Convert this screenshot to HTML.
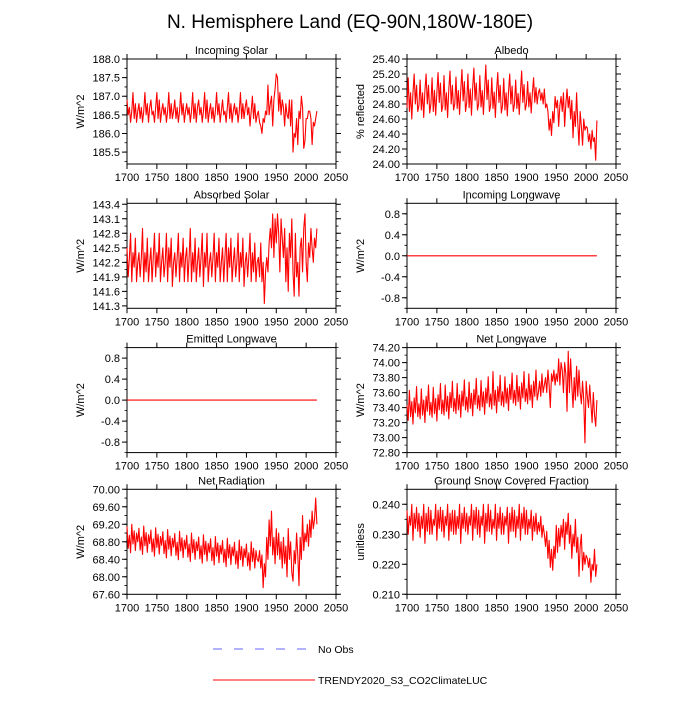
<!DOCTYPE html>
<html><head><meta charset="utf-8"><style>
html,body{margin:0;padding:0;background:#fff;}
svg text{font-family:"Liberation Sans",sans-serif;fill:#000;}
</style></head><body>
<svg id="chart" width="700" height="700" viewBox="0 0 700 700" xmlns="http://www.w3.org/2000/svg">
<text x="350" y="28" font-size="19" text-anchor="middle">N. Hemisphere Land (EQ-90N,180W-180E)</text>
<g id="panels"></g>
<g>
<line x1="213" y1="649" x2="308" y2="649" stroke="#6666ff" stroke-width="1" stroke-dasharray="9,12"/>
<text x="318" y="653" font-size="10.5">No Obs</text>
<line x1="213" y1="680" x2="315" y2="680" stroke="#ff0000" stroke-width="1"/>
<text x="318" y="684" font-size="10.5">TRENDY2020_S3_CO2ClimateLUC</text>
</g>
</svg>
<script>
const startYear = 1700;
const yearStep = 2;
const xTickLabels = [1700,1750,1800,1850,1900,1950,2000,2050];

const incomingSolar = [
186.9,186.5,186.7,186.3,186.6,187.1,186.4,186.8,186.3,186.6,
186.8,186.4,186.7,186.3,186.6,187.1,186.5,186.8,186.3,186.7,
186.9,186.5,186.6,186.3,186.7,187.1,186.4,186.9,186.3,186.6,
186.8,186.5,186.7,186.3,186.6,187.1,186.4,186.8,186.4,186.6,
186.9,186.4,186.7,186.3,186.6,187.1,186.5,186.8,186.3,186.6,
186.8,186.5,186.7,186.3,186.6,187.1,186.4,186.8,186.3,186.7,
186.9,186.5,186.7,186.3,186.6,187.1,186.4,186.9,186.3,186.6,
186.8,186.4,186.7,186.3,186.6,187.1,186.5,186.8,186.3,186.6,
186.9,186.5,186.6,186.3,186.7,187.1,186.4,186.8,186.3,186.6,
186.8,186.5,186.7,186.3,186.6,187.1,186.4,186.8,186.4,186.7,
186.9,186.5,186.7,186.2,186.6,187.0,186.4,186.8,186.3,186.5,
186.6,186.3,186.2,186.0,186.4,186.3,186.6,186.5,187.3,186.5,
186.8,187.0,186.2,186.9,187.2,187.6,187.5,186.6,187.1,186.5,
186.9,186.7,186.2,186.8,186.5,186.4,186.9,186.2,186.9,185.5,
186.0,185.9,186.4,185.7,186.6,186.4,187.0,186.7,185.6,185.8,
186.4,186.4,186.6,186.6,186.4,185.7,186.3,186.2,186.4,186.6];
const albedo = [
24.75,25.15,24.70,24.95,24.60,24.95,25.20,24.80,25.05,24.70,
24.78,25.12,24.72,24.95,24.62,24.98,25.20,24.80,25.05,24.68,
24.80,25.15,24.70,24.98,24.65,24.95,25.22,24.82,25.08,24.70,
24.78,25.18,24.72,24.95,24.62,25.00,25.24,24.80,25.05,24.72,
24.80,25.16,24.74,24.98,24.66,24.98,25.26,24.84,25.10,24.70,
24.82,25.20,24.75,25.00,24.65,25.02,25.28,24.85,25.08,24.72,
24.80,25.18,24.76,24.98,24.66,25.00,25.32,24.86,25.12,24.70,
24.78,25.15,24.74,24.96,24.62,24.98,25.22,24.82,25.05,24.68,
24.78,25.14,24.72,24.95,24.64,24.96,25.20,24.80,25.04,24.70,
24.80,25.12,24.74,24.94,24.66,24.96,25.24,24.82,25.06,24.72,
24.80,25.10,24.76,24.95,24.68,24.95,25.15,24.82,25.02,24.80,
24.95,25.00,24.85,24.95,24.80,25.00,24.75,24.80,24.70,24.45,
24.60,24.38,24.70,24.55,24.90,24.75,24.85,24.50,24.78,24.90,
24.70,24.95,24.50,24.80,25.00,24.75,24.90,24.60,24.85,24.35,
24.70,24.50,24.95,24.55,24.25,24.70,24.50,24.25,24.60,24.45,
24.50,24.48,24.30,24.40,24.20,24.45,24.30,24.35,24.05,24.58];
const absorbedSolar = [
142.5,141.9,142.3,142.8,141.8,142.4,142.1,142.7,141.8,142.2,
142.4,141.9,142.3,142.9,141.8,142.4,142.0,142.7,141.8,142.2,
142.5,141.8,142.3,142.8,141.9,142.4,142.1,142.8,141.8,142.2,
142.5,141.9,142.2,142.8,141.8,142.5,142.1,142.7,141.7,142.2,
142.4,141.9,142.3,142.8,141.8,142.4,142.1,142.7,141.8,142.3,
142.5,141.8,142.3,142.9,141.8,142.4,142.0,142.7,141.8,142.2,
142.5,141.9,142.3,142.8,141.7,142.4,142.1,142.8,141.8,142.2,
142.4,141.9,142.3,142.8,141.8,142.4,142.1,142.7,141.8,142.2,
142.5,141.8,142.3,142.8,141.8,142.5,142.1,142.7,141.8,142.2,
142.5,141.9,142.2,142.8,141.8,142.4,142.1,142.7,141.7,142.2,
142.4,141.9,142.3,142.8,141.8,142.4,142.0,142.6,141.8,142.2,
142.3,141.9,142.6,141.8,142.2,141.35,142.0,142.3,142.0,142.6,
142.9,142.5,143.2,142.3,143.1,142.6,143.2,142.8,142.0,143.1,
142.7,142.3,142.9,141.8,142.5,141.6,142.8,142.3,143.1,142.0,
141.5,142.8,141.9,142.2,141.5,142.5,142.7,142.0,142.9,143.2,
142.2,141.8,142.6,142.3,142.9,142.5,142.2,142.7,142.5,142.9];
const incomingLongwave = [0,0];
const emittedLongwave = [0,0];
const flatYears = [1700,2018];
const netLongwave = [
73.43,73.23,73.63,73.28,73.48,73.18,73.53,73.33,73.68,73.28,
73.45,73.25,73.65,73.30,73.50,73.20,73.55,73.35,73.70,73.30,
73.47,73.27,73.67,73.32,73.52,73.22,73.57,73.37,73.72,73.32,
73.50,73.30,73.70,73.35,73.55,73.25,73.60,73.40,73.75,73.35,
73.52,73.32,73.72,73.37,73.57,73.27,73.62,73.42,73.77,73.37,
73.54,73.34,73.74,73.39,73.59,73.29,73.64,73.44,73.79,73.39,
73.56,73.36,73.76,73.41,73.61,73.31,73.66,73.46,73.81,73.41,
73.58,73.38,73.88,73.43,73.63,73.33,73.68,73.48,73.83,73.43,
73.61,73.41,73.81,73.46,73.66,73.36,73.71,73.51,73.86,73.46,
73.63,73.43,73.83,73.48,73.68,73.38,73.73,73.53,73.88,73.48,
73.65,73.45,73.85,73.50,73.70,73.40,73.75,73.55,73.90,73.50,
73.60,73.75,73.55,73.85,73.60,73.70,73.80,73.60,73.90,73.70,
73.40,73.85,73.75,73.90,73.70,73.85,73.75,74.05,73.70,74.00,
73.90,73.60,74.00,73.85,73.35,74.15,73.60,74.05,73.70,73.40,
73.80,73.50,73.95,73.55,73.90,73.60,73.45,73.75,73.50,72.93,
73.75,73.55,73.40,73.70,73.45,73.20,73.60,73.30,73.15,73.50];
const netRadiation = [
69.15,68.65,68.95,68.55,69.20,68.75,69.05,68.60,69.00,68.80,
69.11,68.61,68.91,68.51,69.16,68.71,69.01,68.56,68.96,68.76,
69.07,68.57,68.87,68.47,69.12,68.67,68.97,68.52,68.92,68.72,
69.03,68.53,68.83,68.43,69.08,68.63,68.93,68.48,68.88,68.68,
68.99,68.49,68.79,68.39,69.04,68.59,68.89,68.44,68.84,68.64,
68.95,68.45,68.75,68.35,69.00,68.55,68.85,68.40,68.80,68.60,
68.91,68.41,68.71,68.31,68.96,68.51,68.81,68.36,68.76,68.56,
68.87,68.37,68.67,68.27,68.92,68.47,68.77,68.32,68.72,68.52,
68.83,68.33,68.63,68.23,68.88,68.43,68.73,68.28,68.68,68.48,
68.79,68.29,68.59,68.19,68.84,68.39,68.69,68.24,68.64,68.44,
68.75,68.25,68.55,68.15,68.80,68.35,68.65,68.20,68.60,68.40,
68.35,68.60,68.20,68.50,67.75,68.30,68.00,68.90,68.40,69.30,
68.70,69.50,68.50,68.90,68.30,69.10,68.50,69.00,68.40,68.80,
68.20,68.90,68.30,68.70,68.00,69.10,68.40,68.80,68.10,67.90,
68.60,68.30,69.00,68.50,67.80,68.90,68.40,69.40,68.60,69.00,
68.80,69.20,68.70,69.30,68.90,69.50,69.10,69.30,69.80,69.20];
const snowFraction = [
0.238,0.230,0.236,0.233,0.240,0.228,0.237,0.232,0.239,0.231,
0.237,0.229,0.236,0.232,0.240,0.227,0.237,0.231,0.239,0.230,
0.238,0.230,0.235,0.233,0.240,0.228,0.238,0.232,0.239,0.231,
0.238,0.229,0.236,0.233,0.240,0.228,0.237,0.231,0.238,0.230,
0.238,0.230,0.236,0.232,0.240,0.227,0.237,0.232,0.239,0.231,
0.237,0.230,0.236,0.233,0.240,0.228,0.238,0.232,0.239,0.230,
0.238,0.229,0.236,0.233,0.240,0.227,0.237,0.231,0.240,0.231,
0.238,0.230,0.235,0.232,0.240,0.228,0.237,0.232,0.239,0.230,
0.237,0.230,0.236,0.233,0.239,0.227,0.237,0.231,0.239,0.231,
0.238,0.229,0.236,0.232,0.240,0.228,0.237,0.232,0.239,0.230,
0.238,0.230,0.235,0.232,0.238,0.228,0.236,0.231,0.237,0.230,
0.234,0.231,0.236,0.229,0.233,0.230,0.226,0.231,0.222,0.228,
0.219,0.225,0.218,0.226,0.222,0.233,0.224,0.232,0.226,0.233,
0.229,0.235,0.225,0.234,0.230,0.237,0.227,0.233,0.222,0.230,
0.226,0.235,0.224,0.229,0.216,0.226,0.230,0.218,0.224,0.220,
0.223,0.222,0.219,0.222,0.214,0.220,0.218,0.225,0.216,0.220];

const solarTicks = ["185.5","186.0","186.5","187.0","187.5","188.0"];
const albedoTicks = ["24.00","24.20","24.40","24.60","24.80","25.00","25.20","25.40"];
const absorbedTicks = ["141.3","141.6","141.9","142.2","142.5","142.8","143.1","143.4"];
const longwaveTicks = ["-0.8","-0.4","0.0","0.4","0.8"];
const netLwTicks = ["72.80","73.00","73.20","73.40","73.60","73.80","74.00","74.20"];
const netRadTicks = ["67.60","68.00","68.40","68.80","69.20","69.60","70.00"];
const snowTicks = ["0.210","0.220","0.230","0.240"];

const panels = [
 {name:"incoming-solar", title:"Incoming Solar", ylab:"W/m^2", col:0,row:0, ymin:185.18, ymax:188.0, ticks:solarTicks, data:incomingSolar},
 {name:"albedo", title:"Albedo", ylab:"% reflected", col:1,row:0, ymin:24.0, ymax:25.4, ticks:albedoTicks, data:albedo},
 {name:"absorbed-solar", title:"Absorbed Solar", ylab:"W/m^2", col:0,row:1, ymin:141.25, ymax:143.42, ticks:absorbedTicks, data:absorbedSolar},
 {name:"incoming-longwave", title:"Incoming Longwave", ylab:"W/m^2", col:1,row:1, ymin:-1, ymax:1, ticks:longwaveTicks, data:incomingLongwave, years:flatYears},
 {name:"emitted-longwave", title:"Emitted Longwave", ylab:"W/m^2", col:0,row:2, ymin:-1, ymax:1, ticks:longwaveTicks, data:emittedLongwave, years:flatYears},
 {name:"net-longwave", title:"Net Longwave", ylab:"W/m^2", col:1,row:2, ymin:72.8, ymax:74.2, ticks:netLwTicks, data:netLongwave},
 {name:"net-radiation", title:"Net Radiation", ylab:"W/m^2", col:0,row:3, ymin:67.6, ymax:70.0, ticks:netRadTicks, data:netRadiation},
 {name:"snow-fraction", title:"Ground Snow Covered Fraction", ylab:"unitless", col:1,row:3, ymin:0.21, ymax:0.245, ticks:snowTicks, data:snowFraction}
];

const NS="http://www.w3.org/2000/svg";
const root=document.getElementById('panels');
function mk(tag,attrs,parent){const e=document.createElementNS(NS,tag);for(const k in attrs)e.setAttribute(k,attrs[k]);parent.appendChild(e);return e;}
const colX=[127,407], W=209, H=105, rowY=[59,203.3,347.6,489.3];

panels.forEach(p=>{
 const x0=colX[p.col], y0=rowY[p.row];
 const sx=v=>x0+(v-1700)/(2050-1700)*W;
 const sy=v=>y0+H-(v-p.ymin)/(p.ymax-p.ymin)*H;
 const g=mk('g',{},root);
 
 
 const t=mk('text',{x:x0+W/2,y:y0-5,'font-size':'11','text-anchor':'middle'},g);
 t.textContent=p.title;
 
 
 const yl=mk('text',{x:0,y:0,'font-size':'11','text-anchor':'middle',transform:`translate(${x0-43},${y0+H/2}) rotate(-90)`},g);
 yl.textContent=p.ylab;
 
 
 xTickLabels.forEach(v=>{
  const x=sx(v);
  const tk=mk('path',{d:`M${x},${y0+H}v5M${x},${y0}v-5`,stroke:'#000','stroke-width':'1'},g);
  
  
  const lb=mk('text',{x:x,y:y0+H+17,'font-size':'11','text-anchor':'middle'},g);
  lb.textContent=v;
  
  
 });
 const tv=p.ticks.map(Number); const step=tv[1]-tv[0];
 p.ticks.forEach((s,i)=>{
  const y=sy(tv[i]);
  const tk=mk('path',{d:`M${x0},${y}h-5M${x0+W},${y}h5`,stroke:'#000','stroke-width':'1'},g);
  
  
  const lb=mk('text',{x:x0-7,y:y+4,'font-size':'11','text-anchor':'end'},g);
  lb.textContent=s;
  
  
 });
 for(let v=tv[0]-step/2; v<=p.ymax+1e-9; v+=step/2){
  if(v<p.ymin-1e-9) continue;
  const y=sy(v);
  const mt=mk('path',{d:`M${x0},${y}h-2.5M${x0+W},${y}h2.5`,stroke:'#000','stroke-width':'0.8'},g);
  
  
 }
 const fr=mk('rect',{x:x0,y:y0,width:W,height:H,fill:'none',stroke:'#000','stroke-width':'1'},g);
 
 
 const pts=p.data.map((v,i)=>{const yr=p.years?p.years[i]:startYear+yearStep*i;return sx(yr).toFixed(2)+','+sy(v).toFixed(2);}).join(' ');
 const ln=mk('polyline',{points:pts,fill:'none',stroke:'#ff0000','stroke-width':'1.1','stroke-linejoin':'round'},g);
 
 
});
</script>
</body></html>
